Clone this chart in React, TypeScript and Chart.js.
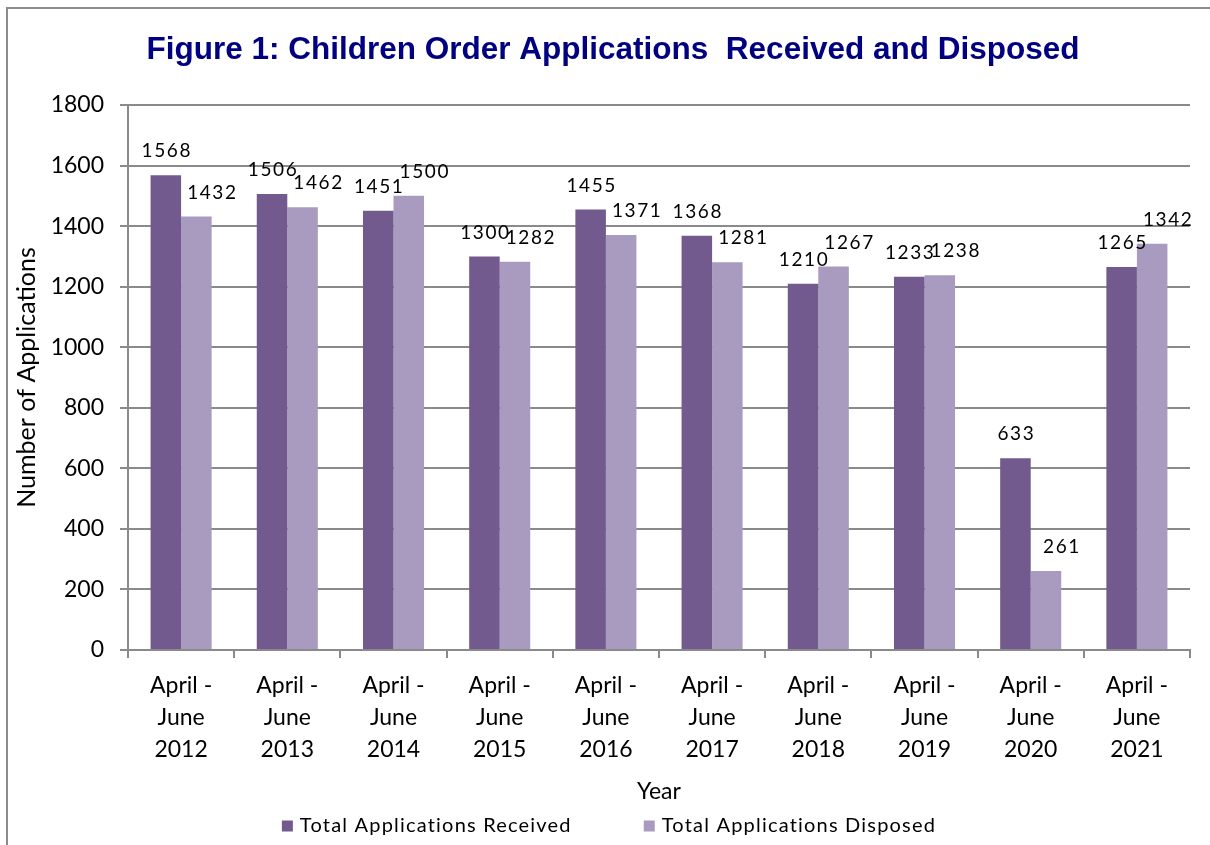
import React, { useEffect, useRef } from 'react';
import { Chart, registerables } from 'chart.js';

Chart.register(...registerables);

// ---- data ----
const years = ['2012', '2013', '2014', '2015', '2016', '2017', '2018', '2019', '2020', '2021'];
const periodLines = ['April -', 'June'];
const received = [1568, 1506, 1451, 1300, 1455, 1368, 1210, 1233, 633, 1265];
const disposed = [1432, 1462, 1500, 1282, 1371, 1281, 1267, 1238, 261, 1342];
const seriesNames = ['Total Applications Received', 'Total Applications Disposed'];
const yMin = 0;
const yMax = 1800;
const yStep = 200;
const titleText = 'Figure 1: Children Order Applications  Received and Disposed';
const xTitle = 'Year';
const yTitle = 'Number of Applications';

// ---- style ----
const colors = ['#725a8f', '#a99bc0'];
const gridColor = '#8a8a8a';
const FONT = 'Lato, "Noto Sans", sans-serif';

const decorPlugin = {
  id: 'decor',
  afterDraw(chart: any) {
    const ctx = chart.ctx as CanvasRenderingContext2D;
    ctx.save();
    // outer frame
    ctx.strokeStyle = '#8c8c8c';
    ctx.lineWidth = 2;
    ctx.strokeRect(7, 8, chart.width + 10, chart.height + 10);

    // title
    ctx.font = 'bold 31.5px "Liberation Sans", Arial, sans-serif';
    ctx.fillStyle = '#000080';
    ctx.textAlign = 'center';
    ctx.textBaseline = 'alphabetic';
    ctx.fillText(titleText, 613, 59);

    // data labels
    ctx.font = `19px ${FONT}`;
    (ctx as any).letterSpacing = '1.6px';
    ctx.fillStyle = '#000';
    ctx.textBaseline = 'middle';
    chart.data.datasets.forEach((ds: any, di: number) => {
      const meta = chart.getDatasetMeta(di);
      meta.data.forEach((bar: any, i: number) => {
        const dx = di === 1 ? 15 : 0;
        ctx.fillText(String(ds.data[i]), bar.x + dx + 1, bar.y - 24);
      });
    });

    // legend
    ctx.font = `20px ${FONT}`;
    (ctx as any).letterSpacing = '1.2px';
    ctx.textAlign = 'left';
    const box = 11;
    const gapBoxText = 7;
    const gapItems = 72;
    const widths = chart.data.datasets.map((ds: any) => ctx.measureText(ds.label).width);
    const total = widths.reduce((a: number, w: number) => a + box + gapBoxText + w, 0) + gapItems;
    let x = 609 - total / 2;
    const cy = 826;
    chart.data.datasets.forEach((ds: any, di: number) => {
      ctx.fillStyle = ds.backgroundColor;
      ctx.fillRect(x, cy - box / 2, box, box);
      ctx.fillStyle = '#000';
      ctx.fillText(ds.label, x + box + gapBoxText, cy);
      x += box + gapBoxText + widths[di] + gapItems;
    });
    ctx.restore();
  },
};

export default function App() {
  const ref = useRef<HTMLCanvasElement | null>(null);

  useEffect(() => {
    if (!ref.current) return;
    const chart = new Chart(ref.current, {
      type: 'bar',
      data: {
        labels: years.map((y) => [...periodLines, y]),
        datasets: [
          { label: seriesNames[0], data: received, backgroundColor: colors[0] },
          { label: seriesNames[1], data: disposed, backgroundColor: colors[1] },
        ],
      },
      options: {
        responsive: false,
        animation: false,
        devicePixelRatio: 1,
        layout: { padding: { top: 105, left: 0, right: 20, bottom: 35 } },
        datasets: { bar: { categoryPercentage: 0.575, barPercentage: 1.0 } },
        plugins: {
          legend: { display: false },
          title: { display: false },
          tooltip: { enabled: false },
        },
        scales: {
          x: {
            afterFit: (s: any) => { s.height = 160; },
            grid: {
              drawOnChartArea: false,
              drawTicks: true,
              tickLength: 8,
              color: gridColor,
              lineWidth: 2,
              offset: true,
            },
            border: { display: true, color: gridColor, width: 2 },
            ticks: {
              color: '#000',
              font: { family: FONT, size: 23, lineHeight: 1.39 },
              padding: 12,
              maxRotation: 0,
              autoSkip: false,
            },
            title: {
              display: true,
              text: xTitle,
              color: '#000',
              font: { family: FONT, size: 23 },
              padding: { top: 0, bottom: 5 },
            },
          },
          y: {
            min: yMin,
            max: yMax,
            afterFit: (s: any) => { s.width = 128; },
            grid: {
              color: gridColor,
              lineWidth: 2,
              drawTicks: true,
              tickLength: 8,
            },
            border: { display: true, color: gridColor, width: 2 },
            ticks: {
              stepSize: yStep,
              color: '#000',
              font: { family: FONT, size: 23 },
              padding: 16,
              callback: (v: any) => String(v),
            },
            title: {
              display: true,
              text: yTitle,
              color: '#000',
              font: { family: FONT, size: 25 },
              padding: { top: 12, bottom: 0 },
            },
          },
        },
      },
      plugins: [decorPlugin],
    } as any);
    return () => chart.destroy();
  }, []);

  return (
    <canvas
      ref={ref}
      width={1210}
      height={845}
      style={{ position: 'fixed', left: 0, top: 0, width: 1210, height: 845, background: '#fff' }}
    />
  );
}
